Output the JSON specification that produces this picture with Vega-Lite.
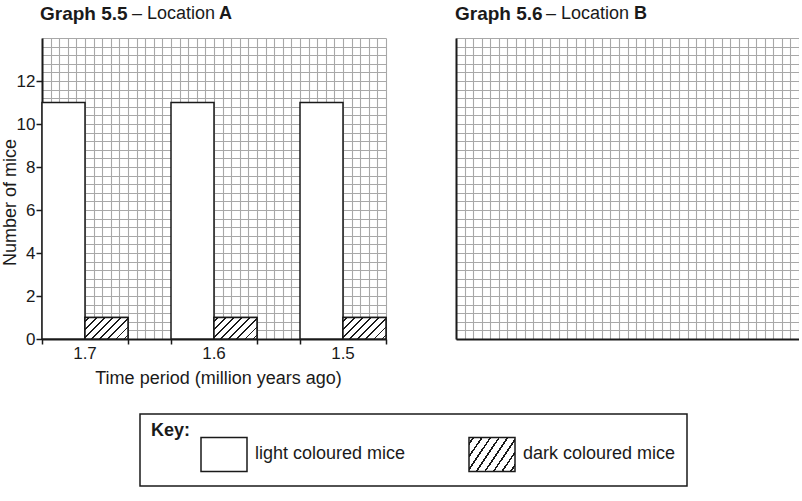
{
  "$schema": "https://vega.github.io/schema/vega-lite/v6.json",
  "padding": {"left": 1, "top": 5, "right": 0, "bottom": 0},
  "spacing": 68,
  "config": {
    "font": "Liberation Sans",
    "view": {"stroke": null},
    "text": {"color": "#1a1a1a"},
    "axis": {
      "labelColor": "#1a1a1a", "titleColor": "#1a1a1a", "labelFontSize": 17, "titleFontSize": 18,
      "titleFontWeight": "normal", "domainColor": "#1a1a1a", "domainWidth": 2, "tickColor": "#1a1a1a",
      "tickWidth": 1.5, "gridColor": "#a8a8a8", "gridWidth": 1.1, "gridOpacity": 1
    }
  },
  "data": {"values": [
    {"period": "1.7", "mice": "light coloured mice", "count": 11},
    {"period": "1.7", "mice": "dark coloured mice", "count": 1},
    {"period": "1.6", "mice": "light coloured mice", "count": 11},
    {"period": "1.6", "mice": "dark coloured mice", "count": 1},
    {"period": "1.5", "mice": "light coloured mice", "count": 11},
    {"period": "1.5", "mice": "dark coloured mice", "count": 1}
  ]},
  "hconcat": [
    {
      "width": 344, "height": 301,
      "resolve": {"scale": {"x": "independent"}, "axis": {"x": "independent"}},
      "layer": [
        {
          "layer": [
            {
              "data": {"values": [{"t": "Graph 5.5"}]},
              "mark": {"type": "text", "fontSize": 19, "fontWeight": "bold", "align": "left", "dx": -2, "dy": -24},
              "encoding": {
                "x": {"datum": 0, "type": "quantitative", "scale": {"domain": [0, 8]},
                  "axis": {"orient": "bottom", "values": [0,0.2,0.4,0.6,0.8,1,1.2,1.4,1.6,1.8,2,2.2,2.4,2.6,2.8,3,3.2,3.4,3.6,3.8,4,4.2,4.4,4.6,4.8,5,5.2,5.4,5.6,5.8,6,6.2,6.4,6.6,6.8,7,7.2,7.4,7.6,7.8,8],
                    "tickCount": 100, "grid": true, "labels": false, "title": null, "tickSize": 5,
                    "tickOpacity": {"condition": {"test": "indexof([0,2,3,5,6,8], datum.value) >= 0", "value": 1}, "value": 0}}},
                "y": {"datum": 14, "type": "quantitative", "scale": {"domain": [0, 14]},
                  "axis": {"values": [0,0.4,0.8,1.2,1.6,2,2.4,2.8,3.2,3.6,4,4.4,4.8,5.2,5.6,6,6.4,6.8,7.2,7.6,8,8.4,8.8,9.2,9.6,10,10.4,10.8,11.2,11.6,12,12.4,12.8,13.2,13.6,14],
                    "tickCount": 100, "grid": true, "labelExpr": "datum.value % 2 == 0 && datum.value <= 12 ? '' + datum.value : ''",
                    "labelOverlap": false, "labelFlush": false, "labelPadding": 1, "tickSize": 6,
                    "tickOpacity": {"condition": {"test": "datum.value % 2 == 0 && datum.value <= 12", "value": 1}, "value": 0},
                    "title": "Number of mice", "titlePadding": -3, "titleY": 164}},
                "text": {"field": "t"}
              }
            },
            {
              "data": {"values": [{"t": "– Location"}]},
              "mark": {"type": "text", "fontSize": 18, "fontWeight": "normal", "align": "left", "dx": 90, "dy": -24},
              "encoding": {
                "x": {"datum": 0, "type": "quantitative"},
                "y": {"datum": 14, "type": "quantitative"},
                "text": {"field": "t"}
              }
            },
            {
              "data": {"values": [{"t": "A"}]},
              "mark": {"type": "text", "fontSize": 18, "fontWeight": "bold", "align": "left", "dx": 177, "dy": -24},
              "encoding": {
                "x": {"datum": 0, "type": "quantitative"},
                "y": {"datum": 14, "type": "quantitative"},
                "text": {"field": "t"}
              }
            }
          ]
        },
        {
          "encoding": {
            "x": {"field": "period", "type": "nominal", "sort": ["1.7", "1.6", "1.5"],
              "scale": {"paddingInner": 0.3333333, "paddingOuter": 0},
              "axis": {"orient": "bottom", "title": "Time period (million years ago)", "ticks": false, "tickSize": 0,
                "domain": false, "labelAngle": 0, "labelPadding": 6, "titlePadding": 8, "titleX": 176}},
            "xOffset": {"field": "mice", "type": "nominal", "sort": ["light coloured mice", "dark coloured mice"],
              "scale": {"paddingInner": 0, "paddingOuter": 0}},
            "y": {"field": "count", "type": "quantitative", "title": "Number of mice", "scale": {"domain": [0, 14]}}
          },
          "layer": [
            {
              "mark": {"type": "bar", "stroke": "#1a1a1a", "strokeWidth": 1.5},
              "encoding": {
                "fill": {"field": "mice", "type": "nominal",
                  "scale": {"domain": ["light coloured mice", "dark coloured mice"], "range": ["#ffffff", "url(#gradient_0)"]},
                  "legend": {
                    "orient": "none", "legendX": 98, "legendY": 376,
                    "direction": "horizontal", "columns": 2,
                    "title": "Key:", "titleFontSize": 18, "titleFontWeight": "bold", "titleColor": "#1a1a1a",
                    "titleOrient": "left", "titleAnchor": "start", "titleBaseline": "line-top", "titleLineHeight": 12, "titlePadding": 9,
                    "labelFontSize": 18, "labelColor": "#1a1a1a", "labelOffset": 7, "labelLimit": 400,
                    "symbolType": "M-1,-0.522L1,-0.522L1,0.957L-1,0.957Z", "symbolSize": 2116,
                    "symbolStrokeColor": "#1a1a1a", "symbolStrokeWidth": 1.5, "symbolOpacity": 1,
                    "columnPadding": 60, "padding": 11, "strokeColor": "#1a1a1a", "cornerRadius": 0,
                    "encode": {
                      "legend": {"update": {"strokeWidth": {"value": 1.5}}},
                      "labels": {"update": {"dy": {"value": 5}}},
                      "symbols": {"update": {
                        "stroke": {"value": "#1a1a1a"},
                        "strokeWidth": {"value": 1.5},
                        "opacity": {"value": 1},
                        "fillOpacity": {"value": 1},
                        "strokeOpacity": {"value": 1}
                      }}
                    }
                  }
                }
              }
            },
            {
              "transform": [{"filter": "datum.mice == 'dark coloured mice'"}],
              "mark": {"type": "bar", "stroke": "#1a1a1a", "strokeWidth": 1.5,
                "fill": {"gradient": "linear", "x1": 0, "y1": 0, "x2": 1.2, "y2": 0.6, "stops": [
                  {"offset": 0, "color": "#ffffff"},
                  {"offset": 0.0485, "color": "#ffffff"}, {"offset": 0.0485, "color": "#1a1a1a"}, {"offset": 0.0765, "color": "#1a1a1a"}, {"offset": 0.0765, "color": "#ffffff"},
                  {"offset": 0.1735, "color": "#ffffff"}, {"offset": 0.1735, "color": "#1a1a1a"}, {"offset": 0.2015, "color": "#1a1a1a"}, {"offset": 0.2015, "color": "#ffffff"},
                  {"offset": 0.2985, "color": "#ffffff"}, {"offset": 0.2985, "color": "#1a1a1a"}, {"offset": 0.3265, "color": "#1a1a1a"}, {"offset": 0.3265, "color": "#ffffff"},
                  {"offset": 0.4235, "color": "#ffffff"}, {"offset": 0.4235, "color": "#1a1a1a"}, {"offset": 0.4515, "color": "#1a1a1a"}, {"offset": 0.4515, "color": "#ffffff"},
                  {"offset": 0.5485, "color": "#ffffff"}, {"offset": 0.5485, "color": "#1a1a1a"}, {"offset": 0.5765, "color": "#1a1a1a"}, {"offset": 0.5765, "color": "#ffffff"},
                  {"offset": 0.6735, "color": "#ffffff"}, {"offset": 0.6735, "color": "#1a1a1a"}, {"offset": 0.7015, "color": "#1a1a1a"}, {"offset": 0.7015, "color": "#ffffff"},
                  {"offset": 0.7985, "color": "#ffffff"}, {"offset": 0.7985, "color": "#1a1a1a"}, {"offset": 0.8265, "color": "#1a1a1a"}, {"offset": 0.8265, "color": "#ffffff"},
                  {"offset": 0.9235, "color": "#ffffff"}, {"offset": 0.9235, "color": "#1a1a1a"}, {"offset": 0.9515, "color": "#1a1a1a"}, {"offset": 0.9515, "color": "#ffffff"},
                  {"offset": 1, "color": "#ffffff"}
                ]}},
              "encoding": {}
            }
          ]
        }
      ]
    },
    {
      "width": 343, "height": 301,
      "layer": [
        {
          "data": {"values": [{"t": "Graph 5.6"}]},
          "mark": {"type": "text", "fontSize": 19, "fontWeight": "bold", "align": "left", "dx": -1, "dy": -24},
          "encoding": {
            "x": {"datum": 0, "type": "quantitative", "scale": {"domain": [0, 8]},
              "axis": {"orient": "bottom", "values": [0,0.2,0.4,0.6,0.8,1,1.2,1.4,1.6,1.8,2,2.2,2.4,2.6,2.8,3,3.2,3.4,3.6,3.8,4,4.2,4.4,4.6,4.8,5,5.2,5.4,5.6,5.8,6,6.2,6.4,6.6,6.8,7,7.2,7.4,7.6,7.8,8],
                "tickCount": 100, "grid": true, "labels": false, "ticks": false, "title": null}},
            "y": {"datum": 14, "type": "quantitative", "scale": {"domain": [0, 14]},
              "axis": {"values": [0,0.4,0.8,1.2,1.6,2,2.4,2.8,3.2,3.6,4,4.4,4.8,5.2,5.6,6,6.4,6.8,7.2,7.6,8,8.4,8.8,9.2,9.6,10,10.4,10.8,11.2,11.6,12,12.4,12.8,13.2,13.6,14],
                "tickCount": 100, "grid": true, "labels": false, "ticks": false, "title": null}},
            "text": {"field": "t"}
          }
        },
        {
          "data": {"values": [{"t": "– Location"}]},
          "mark": {"type": "text", "fontSize": 18, "fontWeight": "normal", "align": "left", "dx": 90, "dy": -24},
          "encoding": {
            "x": {"datum": 0, "type": "quantitative"},
            "y": {"datum": 14, "type": "quantitative"},
            "text": {"field": "t"}
          }
        },
        {
          "data": {"values": [{"t": "B"}]},
          "mark": {"type": "text", "fontSize": 18, "fontWeight": "bold", "align": "left", "dx": 178, "dy": -24},
          "encoding": {
            "x": {"datum": 0, "type": "quantitative"},
            "y": {"datum": 14, "type": "quantitative"},
            "text": {"field": "t"}
          }
        }
      ]
    }
  ]
}
